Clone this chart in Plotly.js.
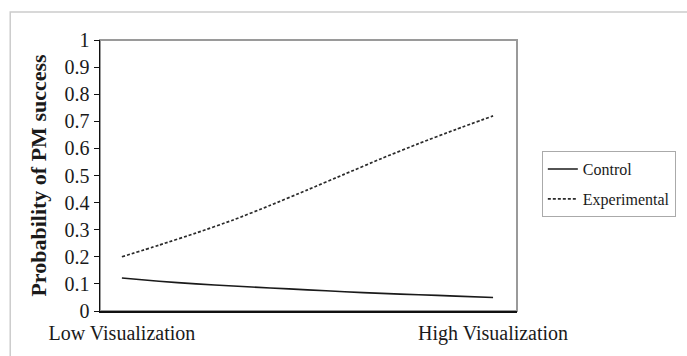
<!DOCTYPE html>
<html>
<head>
<meta charset="utf-8">
<script src="https://cdn.plot.ly/plotly-3.0.1.min.js"></script>
<style>html,body{margin:0;padding:0;background:#fff;}#chart{width:687px;height:356px;}</style>
</head>
<body>
<div id="chart"></div>
<script>
// Position along the visualization axis (0 = low, 1 = high)
const visPosition = [0, 0.1, 0.2, 0.3, 0.4, 0.5, 0.6, 0.7, 0.8, 0.9, 1.0];
const controlProb = [0.122, 0.110, 0.100, 0.092, 0.085, 0.078, 0.071, 0.065, 0.060, 0.055, 0.050];
const experimentalProb = [0.200, 0.243, 0.288, 0.336, 0.390, 0.447, 0.505, 0.563, 0.618, 0.670, 0.720];
const xTickVals = [0, 1];
const xTickText = ['Low Visualization', 'High Visualization'];
const seriesNames = ['Control', 'Experimental'];
const yTitle = 'Probability of PM success';

const serif = 'Liberation Serif, Times New Roman, serif';
const textColor = '#1a1a1a';

const traces = [
  {
    x: visPosition, y: controlProb, name: seriesNames[0], type: 'scatter', mode: 'lines',
    line: {color: '#1a1a1a', width: 1.6, shape: 'spline', smoothing: 0.6}, legendgroup: 'a'
  },
  {
    x: visPosition, y: experimentalProb, name: seriesNames[1], type: 'scatter', mode: 'lines',
    line: {color: '#2a2a2a', width: 1.7, dash: '3px,2px', shape: 'spline', smoothing: 0.6}, legendgroup: 'b'
  }
];

const layout = {
  width: 687, height: 356,
  margin: {l: 100, r: 169, t: 40, b: 45},
  paper_bgcolor: '#ffffff', plot_bgcolor: '#ffffff',
  font: {family: serif, color: textColor, size: 20},
  showlegend: true,
  legend: {
    x: 1.057, y: 0.59, xanchor: 'left', yanchor: 'top',
    bordercolor: '#aaaaaa', borderwidth: 1, bgcolor: '#ffffff',
    font: {family: serif, size: 16, color: textColor},
    traceorder: 'grouped', tracegroupgap: 6
  },
  xaxis: {
    range: [-0.059, 1.0645], tickvals: xTickVals, ticktext: xTickText,
    showgrid: false, zeroline: false, showline: true, linecolor: '#111', linewidth: 1.5,
    ticks: 'outside', ticklen: 3, tickcolor: 'rgba(0,0,0,0)',
    tickfont: {family: serif, size: 20, color: textColor}, fixedrange: true
  },
  yaxis: {
    range: [0, 1], dtick: 0.1, tick0: 0,
    showgrid: false, zeroline: false, showline: true, linecolor: '#111', linewidth: 1.5,
    ticks: 'outside', ticklen: 5, tickcolor: '#111', tickwidth: 1,
    tickfont: {family: serif, size: 20, color: textColor},
    title: {text: '<b>' + yTitle + '</b>', font: {family: serif, size: 22, color: textColor}, standoff: 12},
    fixedrange: true
  },
  shapes: [
    {type: 'rect', xref: 'paper', yref: 'paper', x0: 0, x1: 1, y0: 0, y1: 1,
     line: {color: '#9a9a9a', width: 2}, layer: 'below'},
    {type: 'rect', xref: 'paper', yref: 'paper', x0: -0.2153, x1: 2, y0: -1, y1: 1.1034,
     line: {color: '#cccccc', width: 1.5}, layer: 'below'}
  ]
};

Plotly.newPlot('chart', traces, layout, {displayModeBar: false, staticPlot: true});
</script>
</body>
</html>
